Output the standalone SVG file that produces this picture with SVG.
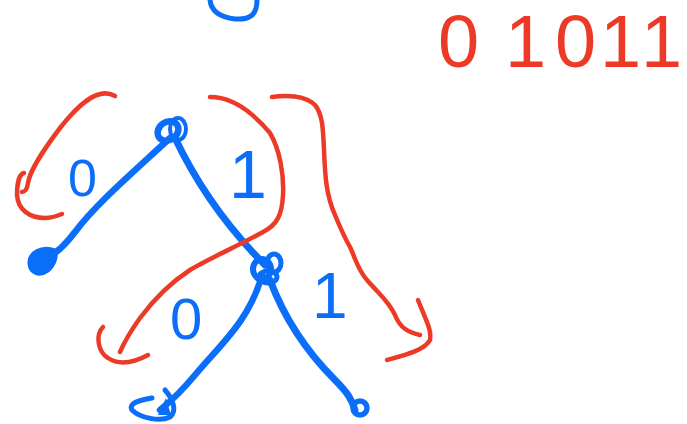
<svg xmlns="http://www.w3.org/2000/svg" width="687" height="424" viewBox="0 0 687 424">
<style>
.b{fill:none;stroke:#0b6ef9;stroke-linecap:round;stroke-linejoin:round}
.r{fill:none;stroke:#ec3a27;stroke-width:4.5;stroke-linecap:round;stroke-linejoin:round}
.bt{fill:#0b6ef9;font-family:"Liberation Sans",Arial,sans-serif}
.rt{fill:#ec3a27;font-family:"Liberation Sans",Arial,sans-serif}
</style>
<rect width="687" height="424" fill="#ffffff"/>
<g id="top-partial"><path class="b" stroke-width="5" d="M210,0 C211,10 218,17 235,19 C250,20 257,15 257,0"/></g>
<g id="connectors">
<path class="b" stroke-width="6.5" d="M170,138 C130,175 95,205 75,232 C65,245 58,252 50,256"/>
<path class="b" stroke-width="7" d="M175,138 C195,180 225,225 265,265"/>
<path class="b" stroke-width="6.5" d="M262,275 C250,320 220,345 195,375 C180,393 170,402 160,410"/>
<path class="b" stroke-width="7" d="M270,280 C285,320 310,355 335,380 C348,393 352,400 355,410"/>
</g>
<g id="root"><ellipse class="b" stroke-width="6.5" cx="168" cy="131" rx="11" ry="9" transform="rotate(-35 168 131)"/><ellipse class="b" stroke-width="4" cx="178" cy="129" rx="8" ry="11"/></g>
<g id="leaf-left"><path fill="#0b6ef9" stroke="#0b6ef9" stroke-width="3" d="M55,250 C42,245 28,252 29,264 C30,274 40,277 48,271 C55,265 58,256 55,250 Z"/></g>
<g id="mid"><ellipse class="b" stroke-width="6" cx="262" cy="269" rx="9" ry="10"/><ellipse class="b" stroke-width="5" cx="274" cy="263" rx="7" ry="9"/><ellipse class="b" stroke-width="5" cx="268" cy="277" rx="9" ry="6"/><path class="b" stroke-width="4" d="M255,262 C252,268 253,276 258,280"/></g>
<g id="leaf-bl"><path class="b" stroke-width="5" d="M165,390 C172,398 178,410 170,417 C160,422 140,418 132,410 C128,403 140,400 152,398"/><path fill="#0b6ef9" d="M166,398 L158,415 L171,415 Z"/></g>
<g id="leaf-br"><circle class="b" stroke-width="5.5" cx="360" cy="408" r="7"/></g>
<g id="labels">
<text class="bt" x="68" y="196" font-size="52">0</text>
<text class="bt" x="229" y="198" font-size="68">1</text>
<text class="bt" x="170" y="339" font-size="58">0</text>
<text class="bt" x="312" y="318" font-size="64">1</text>
<text class="rt" x="438 505 555 600 641" y="67" font-size="74">01011</text>
</g>
<g id="annotations">
<path class="r" d="M115,96 C98,86 78,105 60,128 C42,152 30,170 28,183 C27,190 25,192 22,192"/>
<path class="r" d="M24,173 C19,174 17,185 17,195 C18,210 30,218 45,218 C52,218 57,216 62,214"/>
<path class="r" d="M210,97 C235,97 255,115 270,133 C280,150 284,175 283,195 C282,215 277,225 263,232 C240,245 210,258 190,270 C170,283 155,298 140,318 C130,332 123,345 120,352"/>
<path class="r" d="M103,327 C95,335 98,352 108,358 C120,366 135,362 148,355"/>
<path class="r" stroke-width="5.5" d="M272,97 C285,95 305,95 315,105 C323,115 323,130 324,150 C325,175 326,195 335,215 C342,232 346,240 350,247 C356,260 358,270 367,280 C378,293 388,300 395,315 C400,328 408,332 420,335"/>
<path class="r" stroke-width="5.5" d="M418,300 C425,318 432,330 430,340 C425,350 405,355 387,360"/>
</g>
</svg>
